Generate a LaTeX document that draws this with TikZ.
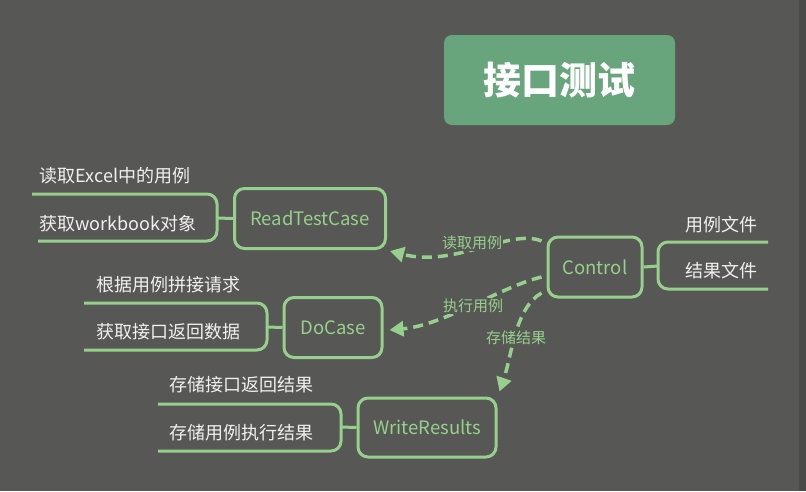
\documentclass[tikz,border=0pt]{standalone}
\usepackage{fontspec}
\setmainfont{Noto Sans CJK SC}
\usetikzlibrary{arrows.meta,calc}
\definecolor{bg}{RGB}{87,88,85}
\definecolor{stripc}{RGB}{74,75,72}
\definecolor{lgreen}{RGB}{150,208,140}
\definecolor{titlec}{RGB}{104,165,124}
\definecolor{wtext}{RGB}{240,240,240}
\tikzset{
  modbox/.style={draw=lgreen, line width=3pt, rounded corners=10pt, text=lgreen,
    font=\fontsize{18.5}{18.5}\selectfont, minimum height=60pt, inner sep=0pt},
  brline/.style={draw=lgreen, line width=3pt, rounded corners=10pt},
  conn/.style={draw=lgreen, line width=3pt},
  itemtxt/.style={text=wtext, font=\fontsize{18}{18}\selectfont, inner sep=0pt},
  dasharrow/.style={draw=lgreen, line width=3.5pt, dash pattern=on 10pt off 6pt,
    -{Triangle[length=14pt,width=15pt]}},
  arrlabel/.style={fill=bg, text=lgreen, font=\fontsize{15}{15}\selectfont, inner sep=1pt}
}
\begin{document}
\begin{tikzpicture}[x=1pt,y=-1pt]
\fill[bg] (0,0) rectangle (806,491);
\fill[stripc] (799,0) rectangle (806,491);
\useasboundingbox (0,0) rectangle (806,491);

% title
\node[fill=titlec, rounded corners=8pt, minimum width=231pt, minimum height=90pt,
  text=white, font=\fontsize{38}{38}\selectfont\bfseries] (title) at (559.5,80) {接口测试};

% boxes
\node[modbox, minimum width=151pt] (rtc) at (310,218.5) {ReadTestCase};
\node[modbox, minimum width=98pt] (dc) at (333,327.5) {DoCase};
\node[modbox, minimum width=138pt, minimum height=59pt] (wr) at (427,427.5) {WriteResults};
\node[modbox, minimum width=94pt] (ctrl) at (595,267) {Control};

% ReadTestCase bracket
\draw[brline] (32,194) -- (217,194) -- (217,241) -- (38,241);
\coordinate (b1) at (217,218);
\draw[conn] (b1) -- (rtc.west);
\node[itemtxt] (t11) at (115,176) {读取Excel中的用例};
\node[itemtxt] (t12) at (118,224) {获取workbook对象};

% DoCase bracket
\draw[brline] (84,303) -- (267,303) -- (267,350) -- (84,350);
\coordinate (b2) at (267,327);
\draw[conn] (b2) -- (dc.west);
\node[itemtxt] (t21) at (168,285) {根据用例拼接请求};
\node[itemtxt] (t22) at (168,332) {获取接口返回数据};

% WriteResults bracket
\draw[brline] (158,404) -- (341,404) -- (341,451) -- (158,451);
\coordinate (b3) at (341,427);
\draw[conn] (b3) -- (wr.west);
\node[itemtxt] (t31) at (241,385) {存储接口返回结果};
\node[itemtxt] (t32) at (241,433) {存储用例执行结果};

% Control bracket
\draw[brline] (768,242) -- (658,242) -- (658,289) -- (768,289);
\coordinate (b4) at (658,266);
\draw[conn] (ctrl.east) -- (b4);
\node[itemtxt] (t41) at (721,225) {用例文件};
\node[itemtxt] (t42) at (721,271) {结果文件};

% dashed arrows
\coordinate (s1) at ($(ctrl.west)+(-5,-26)$);
\coordinate (s2) at ($(ctrl.west)+(-5,10)$);
\coordinate (s3) at ($(ctrl.west)+(-5,26)$);
\coordinate (e1) at ($(rtc.south east)+(3,1)$);
\coordinate (e2) at ($(dc.east)+(6,2.5)$);
\coordinate (e3) at ($(wr.north east)+(2,-5)$);
\draw[dasharrow] (s1) .. controls (510,228) and (455,268) .. (e1);
\draw[dasharrow] (s2) .. controls (500,287) and (445,325) .. (e2);
\draw[dasharrow] (s3) .. controls (515,308) and (512,355) .. (e3);
\node[arrlabel] (l1) at (472,243) {读取用例};
\node[arrlabel] (l2) at (473,306) {执行用例};
\node[arrlabel] (l3) at (516,338) {存储结果};
\end{tikzpicture}
\end{document}
